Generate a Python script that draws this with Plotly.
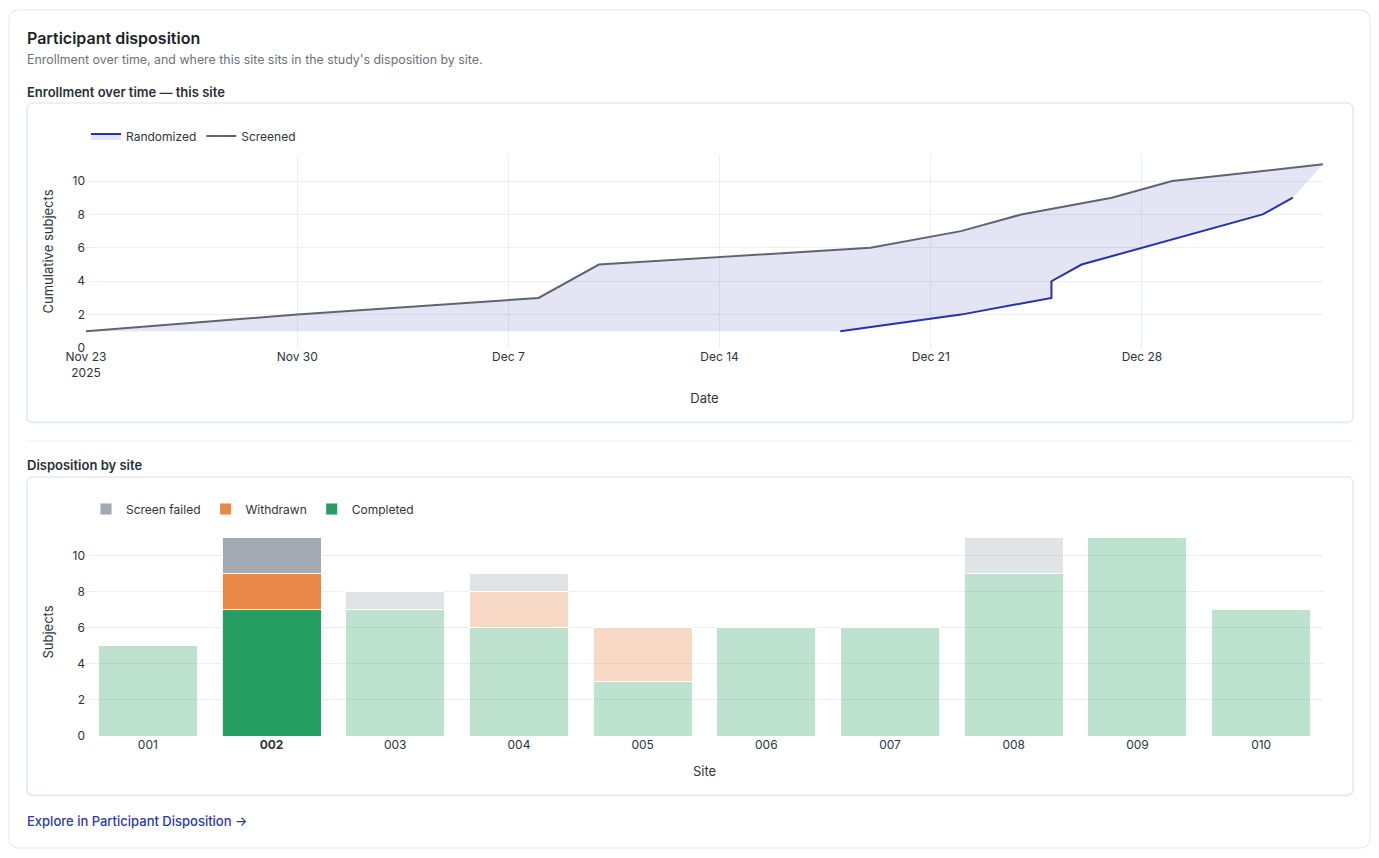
import plotly.graph_objects as go

W, H = 1379, 858

# ---------------- data ----------------
screened_dates = ["2025-11-23", "2025-11-30", "2025-12-08", "2025-12-10", "2025-12-19",
                  "2025-12-22", "2025-12-24", "2025-12-27", "2025-12-29", "2026-01-03"]
screened_vals = [1, 2, 3, 5, 6, 7, 8, 9, 10, 11]

randomized_dates = ["2025-12-18", "2025-12-22", "2025-12-25", "2025-12-25", "2025-12-26",
                    "2025-12-28", "2025-12-30", "2026-01-01", "2026-01-02"]
randomized_vals = [1, 2, 3, 4, 5, 6, 7, 8, 9]

sites = ["001", "002", "003", "004", "005", "006", "007", "008", "009", "010"]
completed = [5, 7, 7, 6, 3, 6, 6, 9, 11, 7]
withdrawn = [0, 2, 0, 2, 3, 0, 0, 0, 0, 0]
screen_failed = [0, 2, 1, 1, 0, 0, 0, 2, 0, 0]
this_site = "002"

y_ticks = [0, 2, 4, 6, 8, 10]

# ---------------- helpers ----------------
def X(p):
    return p / W


def Y(p):
    return 1 - p / H


def rrect(x0, y0, x1, y1, r):
    return (f"M{X(x0 + r)},{Y(y0)} L{X(x1 - r)},{Y(y0)} Q{X(x1)},{Y(y0)} {X(x1)},{Y(y0 + r)} "
            f"L{X(x1)},{Y(y1 - r)} Q{X(x1)},{Y(y1)} {X(x1 - r)},{Y(y1)} "
            f"L{X(x0 + r)},{Y(y1)} Q{X(x0)},{Y(y1)} {X(x0)},{Y(y1 - r)} "
            f"L{X(x0)},{Y(y0 + r)} Q{X(x0)},{Y(y0)} {X(x0 + r)},{Y(y0)} Z")


FONT = "Inter, 'Noto Sans', sans-serif"
TXT = "#2f343b"
GRID = "#eceef1"

fig = go.Figure()

# ---------------- enrollment lines ----------------
fig.add_trace(go.Scatter(
    x=screened_dates, y=screened_vals, mode="lines", name="Screened",
    line=dict(color="#5f6570", width=2), xaxis="x", yaxis="y", legend="legend",
    hovertemplate="%{x|%b %d}: %{y}<extra>Screened</extra>"))
fig.add_trace(go.Scatter(
    x=randomized_dates, y=randomized_vals, mode="lines", name="Randomized",
    line=dict(color="#2731a8", width=2), fill="tonexty",
    fillcolor="rgba(42,53,176,0.13)", xaxis="x", yaxis="y", legend="legend",
    hovertemplate="%{x|%b %d}: %{y}<extra>Randomized</extra>"))

# ---------------- disposition bars ----------------
series = [
    ("Completed", completed, "#259e62", "rgba(37,158,98,0.30)"),
    ("Withdrawn", withdrawn, "#e8894a", "rgba(232,137,74,0.32)"),
    ("Screen failed", screen_failed, "#a3aab3", "rgba(163,170,179,0.32)"),
]
for name, vals, full, faded in series:
    colors = [full if s == this_site else faded for s in sites]
    fig.add_trace(go.Bar(
        x=sites, y=vals, name=name, showlegend=False,
        marker=dict(color=colors, line=dict(color="rgba(255,255,255,0.9)", width=1)),
        xaxis="x2", yaxis="y2", hovertemplate="%{x}: %{y}<extra>" + name + "</extra>"))
for name, vals, full, faded in series:
    fig.add_trace(go.Bar(
        x=[sites[0]], y=[0], name=name, showlegend=True, legend="legend2",
        marker=dict(color=full, line=dict(color="rgba(255,255,255,0.9)", width=1)),
        xaxis="x2", yaxis="y2", hoverinfo="skip"))

ticktext = [f"<b>{s}</b>" if s == this_site else s for s in sites]

axis_common = dict(showline=False, zeroline=False, ticks="", automargin=False,
                   tickfont=dict(size=12, color=TXT, family=FONT))

fig.update_layout(
    width=W, height=H, autosize=False,
    margin=dict(l=0, r=0, t=0, b=0, pad=0, autoexpand=False),
    paper_bgcolor="white", plot_bgcolor="rgba(0,0,0,0)",
    font=dict(family=FONT, size=12, color=TXT),
    barmode="stack", bargap=0.2,
    showlegend=True,
    xaxis=dict(domain=[X(86), X(1323)], anchor="y", type="date",
               range=[screened_dates[0], screened_dates[-1]],
               tick0=screened_dates[0], dtick=7 * 86400000,
               showgrid=True, gridcolor=GRID,
               title=dict(text="Date", font=dict(size=13, color=TXT)),
               **axis_common),
    yaxis=dict(domain=[Y(348), Y(155)], anchor="x", range=[0, 11.56],
               tickvals=y_ticks, showgrid=True, gridcolor=GRID,
               title=dict(text="Cumulative subjects", font=dict(size=13, color=TXT)),
               **axis_common),
    xaxis2=dict(domain=[X(86), X(1323)], anchor="y2", type="category",
                tickvals=sites, ticktext=ticktext, showgrid=False,
                title=dict(text="Site", font=dict(size=13, color=TXT)),
                **axis_common),
    yaxis2=dict(domain=[Y(736), Y(528)], anchor="x2", range=[0, 11.55],
                tickvals=y_ticks, showgrid=True, gridcolor=GRID,
                title=dict(text="Subjects", font=dict(size=13, color=TXT)),
                **axis_common),
    legend=dict(orientation="h", x=X(86), y=Y(136), xanchor="left", yanchor="middle",
                traceorder="reversed", font=dict(size=12, color=TXT),
                bgcolor="rgba(0,0,0,0)"),
    legend2=dict(orientation="h", x=X(86), y=Y(509), xanchor="left", yanchor="middle",
                 traceorder="reversed", font=dict(size=12, color=TXT),
                 bgcolor="rgba(0,0,0,0)"),
)

# ---------------- card & panels ----------------
shapes = [
    dict(type="path", path=rrect(9, 10, 1370, 848, 10), xref="paper", yref="paper",
         line=dict(color="#e3e5e8", width=1), fillcolor="white", layer="below"),
    dict(type="path", path=rrect(27, 104, 1353, 423, 6), xref="paper", yref="paper",
         line=dict(color="#eef0f2", width=1), fillcolor="rgba(0,0,0,0)", layer="below"),
    dict(type="path", path=rrect(27, 103, 1353, 422, 6), xref="paper", yref="paper",
         line=dict(color="#dcdfe3", width=1), fillcolor="white", layer="below"),
    dict(type="line", x0=X(27), x1=X(1353), y0=Y(441), y1=Y(441), xref="paper", yref="paper",
         line=dict(color="#eff1f3", width=1), layer="below"),
    dict(type="path", path=rrect(27, 478, 1353, 796, 6), xref="paper", yref="paper",
         line=dict(color="#eef0f2", width=1), fillcolor="rgba(0,0,0,0)", layer="below"),
    dict(type="path", path=rrect(27, 477, 1353, 795, 6), xref="paper", yref="paper",
         line=dict(color="#dcdfe3", width=1), fillcolor="white", layer="below"),
]
fig.update_layout(shapes=shapes)

texts = [
    ("Participant disposition", 25, 38, 16, "#1f2328", 600),
    ("Enrollment over time, and where this site sits in the study's disposition by site.",
     25, 60, 12.4, "#6b7178", 400),
    ("Enrollment over time — this site", 25, 92, 13, "#2a2f36", 600),
    ("Disposition by site", 25, 465, 13, "#2a2f36", 600),
    ("Explore in Participant Disposition →", 25, 821, 13, "#2b3aa6", 500),
]
for t, x, y, s, c, w in texts:
    fig.add_annotation(text=t, x=X(x), y=Y(y), xref="paper", yref="paper",
                       xanchor="left", yanchor="middle", showarrow=False,
                       font=dict(size=s, color=c, family=FONT, weight=w))

fig.write_html("out.html")
